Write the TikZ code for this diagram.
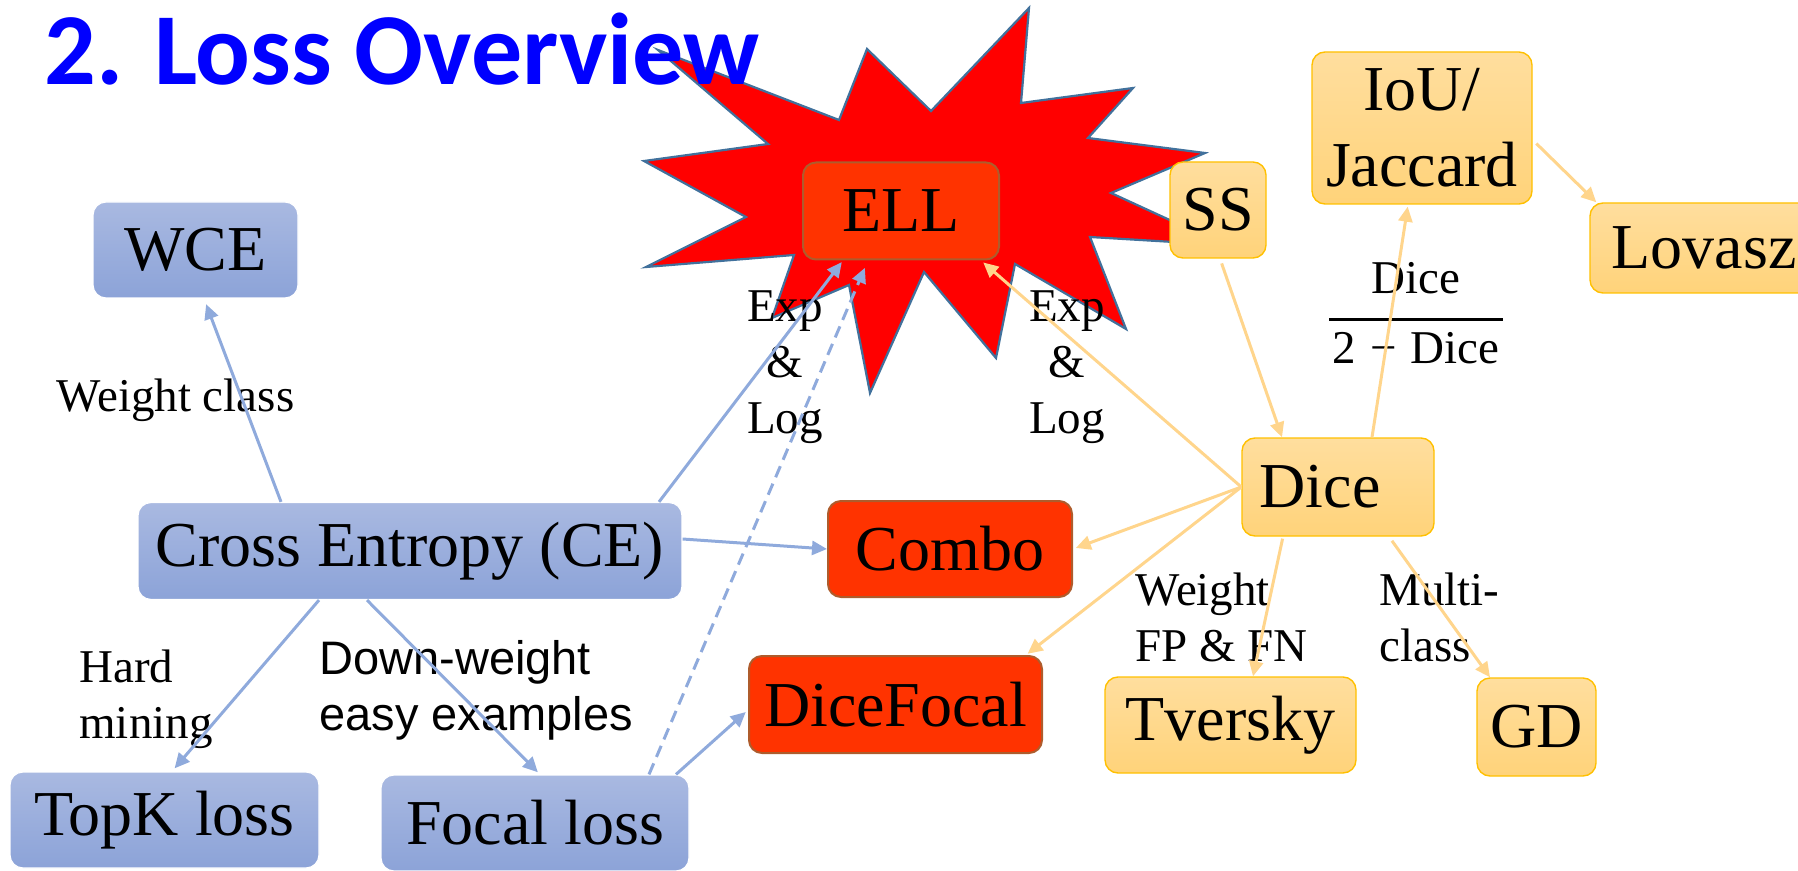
\documentclass[tikz,border=0pt]{standalone}
\usepackage{fontspec}
\setmainfont{Liberation Serif}
\newfontfamily\titlefont{Carlito}
\newfontfamily\lblsans{Liberation Sans}
\usetikzlibrary{arrows.meta}
\definecolor{titleblue}{RGB}{0,0,255}
\definecolor{blueTop}{HTML}{A9B9E1}
\definecolor{blueBot}{HTML}{8CA3D8}
\definecolor{orTop}{HTML}{FFDE9E}
\definecolor{orBot}{HTML}{FFD37A}
\definecolor{orBorder}{HTML}{FFC000}
\definecolor{redFill}{HTML}{FF3300}
\definecolor{redBorder}{HTML}{AE5C2C}
\definecolor{starFill}{HTML}{FF0000}
\definecolor{starBorder}{HTML}{41719C}
\definecolor{arrBlue}{HTML}{8FAADC}
\definecolor{arrOrange}{HTML}{FFD58C}
\begin{document}
\begin{tikzpicture}[x=0.5pt,y=-0.5pt,
  nodefont/.style={font=\fontsize{32pt}{38pt}\selectfont},
  basebox/.style={rectangle, rounded corners=6.5pt, inner sep=0pt, align=center, nodefont},
  bluebox/.style={basebox, draw=white, line width=0.6pt, top color=blueTop, bottom color=blueBot},
  orangebox/.style={basebox, draw=orBorder, line width=0.7pt, top color=orTop, bottom color=orBot},
  redbox/.style={basebox, draw=redBorder, line width=1pt, fill=redFill},
  startshape/.style={draw=starBorder, line width=1.1pt, fill=starFill, line join=miter},
  barrow/.style={draw=arrBlue, line width=1.5pt, -{Triangle[length=7.5pt,width=7pt]}},
  oarrow/.style={draw=arrOrange, line width=1.5pt, -{Triangle[length=7.5pt,width=7pt]}},
  lbl/.style={inner sep=0pt, font=\fontsize{23.5pt}{28pt}\selectfont},
  sanslbl/.style={inner sep=0pt, font=\lblsans\fontsize{23.5pt}{28pt}\selectfont}
]
\useasboundingbox (0,0) rectangle (1798,871);

% star burst
\draw[startshape] (658,50) -- (839,120) -- (867,49) -- (931,111) -- (1029,8) -- (1021,103)
  -- (1133,88) -- (1088,138) -- (1205,153) -- (1111,193) -- (1224,245) -- (1090,237)
  -- (1126,329) -- (1015,264) -- (996,358) -- (924,272) -- (870,393) -- (849,285)
  -- (772,318) -- (794,255) -- (646,267) -- (746,217) -- (644,161) -- (768,144) -- cycle;

% title
\node[anchor=base west, inner sep=0pt, text=titleblue,
  font=\titlefont\bfseries\fontsize{51pt}{60pt}\selectfont] (title) at (44,85) {2. Loss Overview};

% blue nodes
\node[bluebox, minimum width=102.5pt, minimum height=48pt] (wce) at (195.5,250) {WCE};
\node[bluebox, minimum width=272pt, minimum height=48.5pt] (ce) at (410,551) {Cross Entropy (CE)};
\node[bluebox, minimum width=154.5pt, minimum height=48pt] (topk) at (164.5,820) {TopK loss};
\node[bluebox, minimum width=154pt, minimum height=48pt] (focal) at (535,823) {Focal loss};

% red nodes
\node[redbox, minimum width=98pt, minimum height=48.5pt] (ell) at (901,211) {ELL};
\node[redbox, minimum width=122pt, minimum height=48pt] (combo) at (950,549) {Combo};
\node[redbox, minimum width=146.5pt, minimum height=48.5pt] (dicefocal) at (895.5,704.5) {DiceFocal};

% orange nodes
\node[orangebox, minimum width=48pt, minimum height=48pt] (ss) at (1218,210) {SS};
\node[orangebox, minimum width=110pt, minimum height=76pt] (iou) at (1422,128) {IoU/\\Jaccard};
\node[orangebox, minimum width=114pt, minimum height=45pt] (lovasz) at (1704,248) {Lovasz};
\node[orangebox, minimum width=96pt, minimum height=49pt] (dice) at (1338,487) {Dice\hspace*{18pt}};
\node[orangebox, minimum width=125.5pt, minimum height=48pt] (tversky) at (1230.5,725) {Tversky};
\node[orangebox, minimum width=59.5pt, minimum height=49pt] (gd) at (1536.5,727) {GD};

% labels
\node[lbl, anchor=base] (lwc) at (175.5,412) {Weight class};
\node[lbl, anchor=north, align=center] (lexp1) at (785,290) {Exp\\\&\\Log};
\node[lbl, anchor=north, align=center] (lexp2) at (1067,290) {Exp\\\&\\Log};
\node[lbl, anchor=north west, align=left] (lhard) at (79,649) {Hard\\mining};
\node[sanslbl, anchor=north west, align=left] (ldown) at (319,640) {Down-weight\\easy examples};
\node[lbl, anchor=north, align=center] (lfrac) at (1416,262) {Dice\\[-14.5pt]\rule{87pt}{1.5pt}\\[-6.5pt]2\hspace{7pt}−\hspace{7pt}Dice};
\node[lbl, anchor=north west, align=left] (lfpfn) at (1135,572) {Weight\\FP \& FN};
\node[lbl, anchor=north west, align=left] (lmulti) at (1379,572) {Multi-\\class};

% blue connectors
\draw[barrow, shorten >=3pt] ([xshift=-64.5pt]ce.north) -- ([xshift=4.25pt]wce.south);
\draw[barrow, shorten >=1pt] ([xshift=124.5pt]ce.north) -- ([xshift=-29pt]ell.south);
\draw[barrow, dashed, dash pattern=on 6pt off 3.5pt, shorten >=4pt] ([xshift=57pt]focal.north) -- ([xshift=-16.5pt]ell.south);
\draw[barrow] ([yshift=6pt]ce.east) -- (combo.west);
\draw[barrow, shorten >=2pt] ([xshift=-45.5pt]ce.south) -- ([xshift=3.75pt]topk.north);
\draw[barrow, shorten >=1.5pt] ([xshift=-21.5pt]ce.south) -- ([xshift=2.5pt]focal.north);
\draw[barrow, shorten >=1.5pt] ([xshift=70.5pt]focal.north) -- ([yshift=-2.75pt]dicefocal.west);

% orange connectors
\draw[oarrow, shorten <=2.5pt] ([xshift=1pt]ss.south) -- ([xshift=-28pt]dice.north);
\draw[oarrow, shorten >=1pt] ([xshift=17pt]dice.north) -- ([xshift=-7pt]iou.south);
\draw[oarrow, shorten <=2.5pt] ([yshift=-6pt]iou.east) -- ([xshift=3.5pt]lovasz.north west);
\draw[oarrow, shorten >=1.5pt] (dice.west) -- ([xshift=-9.5pt]ell.south east);
\draw[oarrow, shorten >=1.5pt] (dice.west) -- (combo.east);
\draw[oarrow, shorten >=1pt] (dice.west) -- ([xshift=-8.5pt]dicefocal.north east);
\draw[oarrow, shorten <=1pt] ([xshift=-27.5pt]dice.south) -- ([xshift=11.25pt]tversky.north);
\draw[oarrow, shorten <=2.5pt] ([xshift=25.5pt]dice.south) -- ([xshift=-23.25pt]gd.north);
\end{tikzpicture}
\end{document}
